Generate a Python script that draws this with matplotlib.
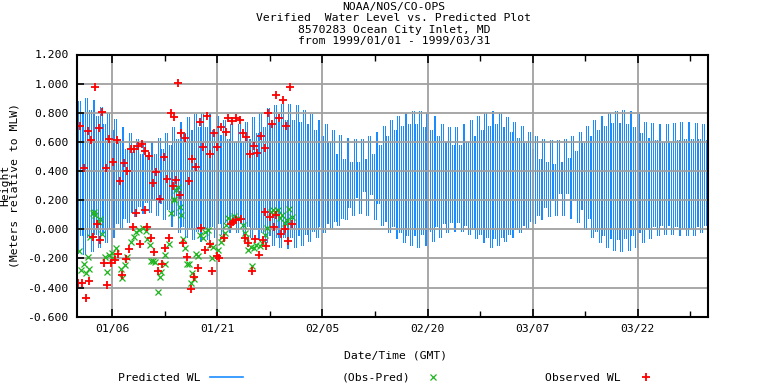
import matplotlib
matplotlib.use("Agg")
import matplotlib.pyplot as plt
import matplotlib.dates as mdates
from datetime import datetime, timedelta

# ---------------- data ----------------
start = datetime(1999, 1, 1)
end = datetime(1999, 4, 1)

# predicted tide per day: higher high, lower high, higher low, lower low (m)
pred_hh = [0.88, 0.90, 0.89, 0.84, 0.80, 0.76, 0.70, 0.66, 0.62, 0.60,
           0.60, 0.63, 0.66, 0.70, 0.74, 0.77, 0.79, 0.80, 0.80, 0.78,
           0.75, 0.73, 0.72, 0.72, 0.74, 0.77, 0.80, 0.83, 0.85, 0.86,
           0.86, 0.85, 0.82, 0.79, 0.75, 0.72, 0.68, 0.65, 0.63, 0.62,
           0.62, 0.64, 0.67, 0.71, 0.75, 0.78, 0.80, 0.81, 0.81, 0.80,
           0.78, 0.75, 0.72, 0.70, 0.70, 0.72, 0.75, 0.78, 0.80, 0.81,
           0.80, 0.77, 0.74, 0.71, 0.67, 0.64, 0.62, 0.61, 0.61, 0.62,
           0.64, 0.67, 0.71, 0.75, 0.78, 0.80, 0.81, 0.82, 0.81, 0.79,
           0.76, 0.74, 0.73, 0.72, 0.72, 0.73, 0.74, 0.74, 0.73, 0.72]
pred_lh = [0.80, 0.82, 0.78, 0.72, 0.68, 0.62, 0.58, 0.55, 0.53, 0.52,
           0.51, 0.52, 0.55, 0.58, 0.62, 0.66, 0.68, 0.70, 0.70, 0.68,
           0.65, 0.62, 0.60, 0.60, 0.62, 0.66, 0.70, 0.72, 0.74, 0.75,
           0.75, 0.74, 0.72, 0.68, 0.64, 0.60, 0.56, 0.52, 0.48, 0.46,
           0.46, 0.48, 0.52, 0.58, 0.64, 0.68, 0.71, 0.72, 0.72, 0.70,
           0.68, 0.64, 0.60, 0.58, 0.58, 0.60, 0.64, 0.68, 0.71, 0.72,
           0.70, 0.67, 0.63, 0.59, 0.55, 0.51, 0.48, 0.46, 0.45, 0.46,
           0.49, 0.54, 0.59, 0.64, 0.68, 0.71, 0.73, 0.73, 0.72, 0.70,
           0.66, 0.63, 0.61, 0.60, 0.60, 0.61, 0.62, 0.62, 0.62, 0.61]
pred_hl = [-0.04, -0.05, -0.03, -0.02, 0.01, 0.04, 0.08, 0.12, 0.16, 0.19,
           0.21, 0.18, 0.14, 0.10, 0.05, 0.02, 0.00, -0.01, 0.00, 0.02,
           0.04, 0.05, 0.05, 0.04, 0.02, 0.00, -0.02, -0.04, -0.05, -0.05,
           -0.05, -0.04, -0.03, -0.01, 0.02, 0.04, 0.06, 0.08, 0.15, 0.22,
           0.26, 0.24, 0.18, 0.12, 0.06, 0.02, -0.02, -0.04, -0.04, -0.03,
           -0.01, 0.02, 0.04, 0.05, 0.05, 0.03, 0.00, -0.03, -0.05, -0.06,
           -0.05, -0.03, 0.00, 0.03, 0.06, 0.10, 0.15, 0.20, 0.25, 0.25,
           0.20, 0.14, 0.08, 0.03, -0.01, -0.04, -0.06, -0.07, -0.06, -0.04,
           -0.02, 0.00, 0.02, 0.03, 0.03, 0.02, 0.01, 0.01, 0.02, 0.03]
pred_ll = [-0.16, -0.17, -0.15, -0.12, -0.09, -0.05, 0.00, 0.05, 0.09, 0.11,
           0.12, 0.10, 0.07, 0.02, -0.02, -0.05, -0.07, -0.08, -0.07, -0.05,
           -0.03, -0.02, -0.02, -0.03, -0.05, -0.07, -0.09, -0.11, -0.12, -0.13,
           -0.13, -0.12, -0.11, -0.08, -0.05, -0.02, 0.01, 0.03, 0.07, 0.10,
           0.11, 0.10, 0.07, 0.03, -0.02, -0.06, -0.09, -0.11, -0.12, -0.11,
           -0.08, -0.05, -0.02, -0.01, -0.01, -0.03, -0.06, -0.09, -0.11, -0.12,
           -0.11, -0.08, -0.05, -0.02, 0.01, 0.04, 0.07, 0.09, 0.10, 0.10,
           0.08, 0.05, 0.00, -0.05, -0.09, -0.12, -0.14, -0.15, -0.14, -0.12,
           -0.09, -0.06, -0.04, -0.03, -0.03, -0.04, -0.04, -0.04, -0.03, -0.02]

# observed water level (day offset from Jan 1, metres)
obs_day = [0.15, 0.38, 0.71, 1.0, 1.34, 1.57, 1.71, 2.05, 2.28, 2.62, 2.9, 3.14, 3.34, 3.57,
           3.85, 4.09, 4.28, 4.57, 4.8, 5.13, 5.37, 5.7, 5.85, 6.18, 6.42, 6.7, 6.94, 7.18,
           7.4, 7.65, 7.98, 8.2, 8.37, 8.7, 8.98, 9.27, 9.65, 9.75, 10.0, 10.27, 10.55,
           10.8, 11.0, 11.2, 11.55, 11.8, 12.17, 12.4, 12.5, 12.83, 13.1, 13.45, 13.7, 13.83,
           14.17, 14.4, 14.64, 14.83, 15.1, 15.45, 15.73, 15.97, 16.2, 16.4, 16.7, 16.92,
           17.25, 17.6, 17.73, 17.96, 18.25, 18.53, 18.9, 19.0, 19.2, 19.53, 19.9, 20.0,
           20.2, 20.58, 20.9, 21.2, 21.53, 21.9, 22.1, 22.3, 22.7, 22.72, 23.2, 23.4, 23.67,
           23.98, 24.15, 24.38, 24.7, 25.0, 25.23, 25.4, 25.66, 25.94, 26.28, 26.52, 26.76,
           26.85, 27.0, 27.23, 27.5, 27.8, 28.08, 28.42, 28.42, 28.8, 29.13, 29.37, 29.6,
           29.75, 30.08, 30.37, 30.7]
obs_wl = [-0.37, 0.707, -0.37, 0.418, -0.47, 0.675, -0.354, 0.61, -0.05, 0.977, 0.034, 0.694,
          -0.075, 0.806, -0.233, 0.418, -0.38, 0.62, -0.233, 0.459, -0.21, 0.616, -0.17, 0.335,
          -0.313, 0.452, -0.203, 0.40, -0.135, 0.548, 0.014, 0.548, 0.11, 0.57, -0.10, 0.589,
          0.13, 0.536, 0.014, 0.50, -0.06,
          0.32, -0.153, 0.39, -0.283, 0.207, -0.238, 0.493, -0.126, 0.342, -0.06, 0.80, 0.297,
          0.77, 0.338, 1.007, 0.235, 0.664, -0.096, 0.63, -0.19, 0.333, -0.41, 0.48, -0.325,
          0.43, -0.267, 0.74, 0.007, 0.566, -0.142, 0.78, -0.103, 0.52, -0.283, 0.66, -0.185,
          0.566, -0.2, 0.70, -0.062, 0.67, 0.765, 0.034, 0.742, 0.052, 0.064, 0.765, 0.747,
          0.068, 0.664, -0.062, 0.632, -0.096, 0.516, -0.288, 0.57, -0.066, 0.527, -0.176,
          0.639, -0.073, 0.12, 0.555, -0.112, 0.80, 0.086, 0.72, 0.014, 0.92, 0.098, 0.767,
          -0.034, 0.886, 0.002, 0.712, -0.08, 0.977, 0.034]

# residual (Obs - Pred)
res_day = [0.25, 0.62, 0.95, 1.34, 1.57, 1.71, 1.9, 2.35, 2.43, 2.55, 3.1, 3.25, 3.57, 3.95,
           4.28, 4.52, 5.0, 5.04, 5.6, 6.32, 6.47, 6.8, 7.18, 7.75, 8.13, 8.46, 8.84, 9.4,
           9.8, 10.0, 10.36, 10.6,
           10.83, 11.17, 11.55, 11.8, 12.03, 12.5, 12.6, 13.07, 13.45, 13.8, 13.9, 14.17,
           14.4, 14.64, 14.88, 15.1, 15.35, 15.68, 15.97, 16.2, 16.4, 16.7, 17.0, 17.25,
           17.5, 17.96, 18.2, 18.67, 18.9, 19.3, 19.4, 20.1, 20.5, 20.7, 21.06, 21.2,
           21.53, 22.0, 22.45, 22.95, 23.66, 23.9, 24.15, 24.38, 24.85, 25.0, 25.23, 25.57,
           26.04, 26.38, 26.76, 27.1, 27.6, 27.93, 28.17, 28.65, 28.9, 29.22, 29.6, 29.99,
           30.3, 30.65]
res_wl = [-0.15, -0.28, -0.24, -0.30, -0.19, -0.27, -0.05, 0.11, 0.12, 0.10, 0.052, 0.07,
          -0.035, -0.19, -0.295, -0.176, -0.2, -0.165, -0.13, -0.27, -0.336, -0.245, -0.19,
          -0.085, -0.05, -0.016, -0.005, 0.011, -0.012, -0.066, -0.108, -0.22,
          -0.22, -0.226, -0.43, -0.327, -0.29, -0.176, -0.24, -0.10, 0.11, 0.205, 0.20, 0.27,
          0.29, 0.155, 0.10, -0.066, -0.126, -0.24, -0.24, -0.366, -0.30, -0.34, -0.17,
          -0.18, -0.04, -0.057, -0.016, -0.005, -0.108, -0.2, -0.12, -0.142, -0.085, -0.05,
          -0.027, 0.03,
          0.075, 0.064, 0.093, 0.075, 0.03, -0.027, -0.057, -0.142, -0.12, -0.25, -0.13,
          -0.108, -0.114, -0.096, -0.039, 0.007, 0.12, 0.132, 0.116, 0.132, 0.075, 0.10,
          0.041, 0.064, 0.139, 0.086]

tick_dates = [datetime(1999, 1, 6), datetime(1999, 1, 21), datetime(1999, 2, 5),
              datetime(1999, 2, 20), datetime(1999, 3, 7), datetime(1999, 3, 22)]
y_ticks = [-0.6, -0.4, -0.2, 0.0, 0.2, 0.4, 0.6, 0.8, 1.0, 1.2]

# ---------------- figure ----------------
W, H = 768, 384
fig = plt.figure(figsize=(W / 100, H / 100), dpi=100)
fig.patch.set_facecolor("white")
mono = "DejaVu Sans Mono"
fs = 8.2


def px(x, y):
    return x / W, 1 - y / H


L, R, T, B = 77, 708, 54.5, 316.7
ax = fig.add_axes([L / W, 1 - B / H, (R - L) / W, (B - T) / H])

# predicted series: tidal extremes every half lunar half-day (6.21 h),
# heights looked up from the per-day arrays above
half = 12.42 / 24 / 2
n_days = len(pred_hh)
pt, pv = [], []
k = 0
while True:
    t = 0.02 + k * half
    if t >= n_days:
        break
    d = int(t)
    cyc = k // 2
    if k % 2 == 0:
        val = pred_ll[d] if cyc % 2 == 0 else pred_hl[d]
    else:
        val = pred_hh[d] if cyc % 2 == 0 else pred_lh[d]
    pt.append(mdates.date2num(start + timedelta(days=t)))
    pv.append(val)
    k += 1

# each rise / fall is drawn as a near-vertical stroke between successive extremes
seg_x = [(pt[i] + pt[i + 1]) / 2 for i in range(len(pt) - 1)]
seg_lo = [min(pv[i], pv[i + 1]) for i in range(len(pv) - 1)]
seg_hi = [max(pv[i], pv[i + 1]) for i in range(len(pv) - 1)]
ax.vlines(seg_x, seg_lo, seg_hi, colors="#1a8cff", lw=0.72, zorder=2, antialiaseds=False)

od = [start + timedelta(days=v) for v in obs_day]
rd = [start + timedelta(days=v) for v in res_day]
ax.plot(rd, res_wl, ls="none", marker="x", ms=4.2, mew=0.9, color="#1fb41f", zorder=4)
ax.plot(od, obs_wl, ls="none", marker="+", ms=5.5, mew=1.3, color="#ff0000", zorder=5)

ax.set_xlim(start, end)
ax.set_ylim(-0.6, 1.2)
ax.xaxis.set_major_locator(matplotlib.ticker.FixedLocator(mdates.date2num(tick_dates)))
minor = [mdates.date2num(t) + 7.5 for t in tick_dates] + [mdates.date2num(tick_dates[0]) - 7.5]
ax.xaxis.set_minor_locator(matplotlib.ticker.FixedLocator(minor))
ax.xaxis.set_major_formatter(mdates.DateFormatter("%m/%d"))
ax.set_yticks(y_ticks)
ax.set_yticklabels(["%.3f" % v for v in y_ticks])

ax.grid(True, which="major", color="#a0a0a0", lw=1.3)
ax.set_axisbelow(False)
for sp in ax.spines.values():
    sp.set_linewidth(1.5)
    sp.set_color("black")
    sp.set_zorder(6)

ax.tick_params(axis="x", which="major", direction="in", length=6, width=1.2,
               top=True, bottom=True, pad=5, labelsize=fs)
ax.tick_params(axis="x", which="minor", direction="in", length=4, width=1.0,
               top=True, bottom=True)
ax.tick_params(axis="y", which="major", direction="in", length=5, width=1.2,
               left=True, right=False, pad=6, labelsize=fs)
for lab in ax.get_xticklabels() + ax.get_yticklabels():
    lab.set_fontfamily(mono)

# titles
titles = ["NOAA/NOS/CO-OPS", "Verified  Water Level vs. Predicted Plot",
          "8570283 Ocean City Inlet, MD", "from 1999/01/01 - 1999/03/31"]
for i, t in enumerate(titles):
    fig.text(*px(394, 7 + i * 11.3), t, ha="center", va="center", fontsize=fs, family=mono)

# y label
fig.text(*px(5.5, 185), "Height", rotation=90, ha="center", va="center", fontsize=fs, family=mono)
fig.text(*px(14.5, 185), "(Meters relative to MLW)", rotation=90, ha="center", va="center",
         fontsize=fs, family=mono)

# x label
fig.text(*px(396, 355), "Date/Time (GMT)", ha="center", va="center", fontsize=fs, family=mono)

# legend row
fig.text(*px(118, 378), "Predicted WL", ha="left", va="center", fontsize=fs, family=mono)
fig.add_artist(matplotlib.lines.Line2D([210 / W, 243 / W], [1 - 377 / H, 1 - 377 / H],
                                       color="#1a8cff", lw=1.2))
fig.text(*px(342, 378), "(Obs-Pred)", ha="left", va="center", fontsize=fs, family=mono)
fig.add_artist(matplotlib.lines.Line2D([433 / W], [1 - 377 / H], ls="none", marker="x",
                                       ms=4.2, mew=0.9, color="#1fb41f"))
fig.text(*px(545, 378), "Observed WL", ha="left", va="center", fontsize=fs, family=mono)
fig.add_artist(matplotlib.lines.Line2D([646 / W], [1 - 377 / H], ls="none", marker="+",
                                       ms=5.5, mew=1.3, color="#ff0000"))

fig.savefig("out.png", dpi=100, facecolor="white")
